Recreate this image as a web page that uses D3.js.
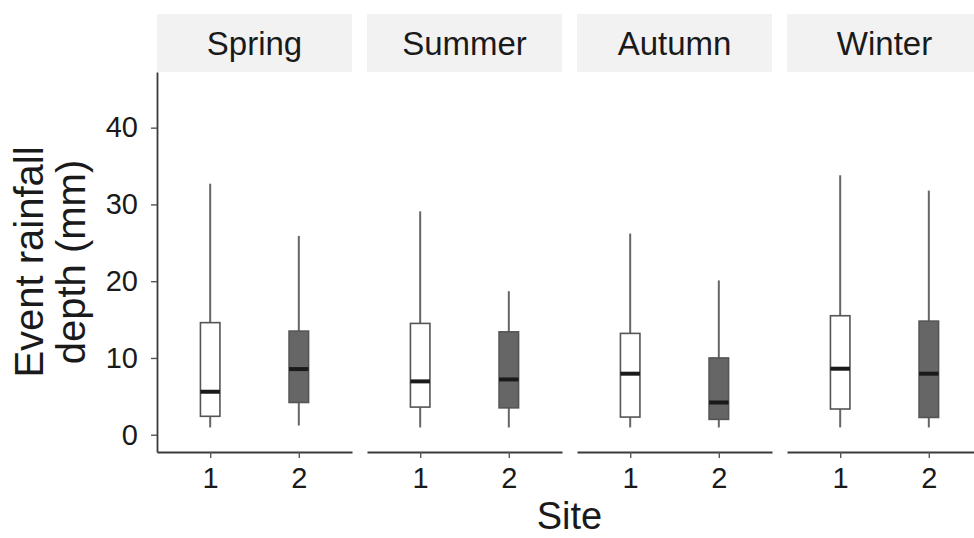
<!DOCTYPE html>
<html>
<head>
<meta charset="utf-8">
<script src="https://cdn.jsdelivr.net/npm/d3@7"></script>
<style>
  body { margin: 0; background: #fff; }
  text { font-family: "Liberation Sans", Arial, Helvetica, sans-serif; }
</style>
</head>
<body>
<div class="chart"></div>
<script>
// Chart data: one entry per season, [site 1, site 2]
var seasons = ["Spring", "Summer", "Autumn", "Winter"];
var sites = ["1", "2"];
var whiskerLow  = [[0.95, 1.2], [0.95, 0.95], [0.95, 0.95], [0.95, 0.95]];
var lowerQuart  = [[2.4, 4.2], [3.6, 3.5], [2.3, 2.0], [3.35, 2.25]];
var medians     = [[5.6, 8.55], [6.95, 7.2], [7.95, 4.2], [8.6, 7.95]];
var upperQuart  = [[14.6, 13.5], [14.5, 13.4], [13.2, 10.0], [15.5, 14.8]];
var whiskerHigh = [[32.7, 25.9], [29.1, 18.7], [26.2, 20.1], [33.8, 31.8]];
var yTicks = [0, 10, 20, 30, 40];

// SVG area
var svgWidth = 974;
var svgHeight = 538;

var margin = { top: 72, left: 157, bottom: 86 };
var panelBottom = svgHeight - margin.bottom;   // 452

var svg = d3.select(".chart")
    .append("svg")
    .attr("width", svgWidth)
    .attr("height", svgHeight);

// Scales
var yScale = d3.scaleLinear()
    .domain([-2.25, 47.25])
    .range([panelBottom, margin.top]);

var facetScale = d3.scaleBand()
    .domain(seasons)
    .range([margin.left, margin.left + 4 * 210 - 15])
    .paddingInner(15 / 210)
    .paddingOuter(0);

var panelWidth = facetScale.bandwidth();

var siteScale = d3.scalePoint()
    .domain(sites)
    .range([0, panelWidth])
    .padding(0.6);

var boxWidth = siteScale.step() * 0.22;
var fills = { "1": "#ffffff", "2": "#666666" };

// Rows of box statistics built from the arrays above
var boxes = [];
seasons.forEach(function(season, i) {
    sites.forEach(function(site, j) {
        boxes.push({
            season: season,
            site: site,
            low: whiskerLow[i][j],
            q1: lowerQuart[i][j],
            med: medians[i][j],
            q3: upperQuart[i][j],
            high: whiskerHigh[i][j]
        });
    });
});

// Facet strips
var strips = svg.selectAll(".strip")
    .data(seasons)
    .enter().append("g")
    .attr("class", "strip")
    .attr("transform", d => `translate(${facetScale(d)}, 14)`);

strips.append("rect")
    .attr("width", panelWidth)
    .attr("height", 58)
    .attr("fill", "#f2f2f2");

strips.append("text")
    .attr("x", panelWidth / 2)
    .attr("y", 41)
    .attr("text-anchor", "middle")
    .style("font-size", "33px")
    .attr("fill", "#1a1a1a")
    .text(d => d);

// Panels
var panels = svg.selectAll(".panel")
    .data(seasons)
    .enter().append("g")
    .attr("class", "panel")
    .attr("transform", d => `translate(${facetScale(d)}, 0)`);

// x axis for each panel
var bottomAxis = d3.axisBottom(siteScale)
    .tickSizeInner(6)
    .tickSizeOuter(0)
    .tickPadding(9);

panels.append("g")
    .attr("class", "x-axis")
    .attr("transform", "translate(0, " + panelBottom + ")")
    .call(bottomAxis);

// Boxplots
var boxGroups = panels.selectAll(".box")
    .data(season => boxes.filter(b => b.season === season))
    .enter().append("g")
    .attr("class", "box")
    .attr("transform", d => `translate(${siteScale(d.site)}, 0)`);

boxGroups.append("line")
    .attr("x1", 0).attr("x2", 0)
    .attr("y1", d => yScale(d.low))
    .attr("y2", d => yScale(d.high))
    .attr("stroke", "#666")
    .attr("stroke-width", 2);

boxGroups.append("rect")
    .attr("x", -boxWidth / 2)
    .attr("width", boxWidth)
    .attr("y", d => yScale(d.q3))
    .attr("height", d => yScale(d.q1) - yScale(d.q3))
    .attr("fill", d => fills[d.site])
    .attr("stroke", "#555")
    .attr("stroke-width", 1.6);

boxGroups.append("line")
    .attr("x1", -boxWidth / 2)
    .attr("x2", boxWidth / 2)
    .attr("y1", d => yScale(d.med))
    .attr("y2", d => yScale(d.med))
    .attr("stroke", "#1a1a1a")
    .attr("stroke-width", 4);

// y axis
var leftAxis = d3.axisLeft(yScale)
    .tickValues(yTicks)
    .tickSizeInner(6)
    .tickSizeOuter(0)
    .tickPadding(13);

svg.append("g")
    .attr("class", "y-axis")
    .attr("transform", "translate(" + margin.left + ", 0)")
    .call(leftAxis);

// Axis styling
svg.selectAll(".x-axis path.domain, .y-axis path.domain")
    .attr("stroke", "#3a3a3a")
    .attr("stroke-width", 1.8);
svg.selectAll(".x-axis .tick line, .y-axis .tick line")
    .attr("stroke", "#555")
    .attr("stroke-width", 1.4);
svg.selectAll(".x-axis .tick text, .y-axis .tick text")
    .attr("fill", "#1a1a1a")
    .style("font-size", "29px")
    .style("font-family", "'Liberation Sans', Arial, sans-serif");

// Axis titles
var yTitle = svg.append("text")
    .attr("transform", "translate(0, " + (margin.top + panelBottom) / 2 + ") rotate(-90)")
    .attr("text-anchor", "middle")
    .attr("fill", "#1a1a1a")
    .style("font-size", "40px");

yTitle.append("tspan").attr("x", 0).attr("y", 43).text("Event rainfall");
yTitle.append("tspan").attr("x", 0).attr("y", 85).text("depth (mm)");

svg.append("text")
    .attr("x", facetScale("Summer") + panelWidth + 7.5)
    .attr("y", 529)
    .attr("text-anchor", "middle")
    .attr("fill", "#1a1a1a")
    .style("font-size", "38px")
    .text("Site");
</script>
</body>
</html>
